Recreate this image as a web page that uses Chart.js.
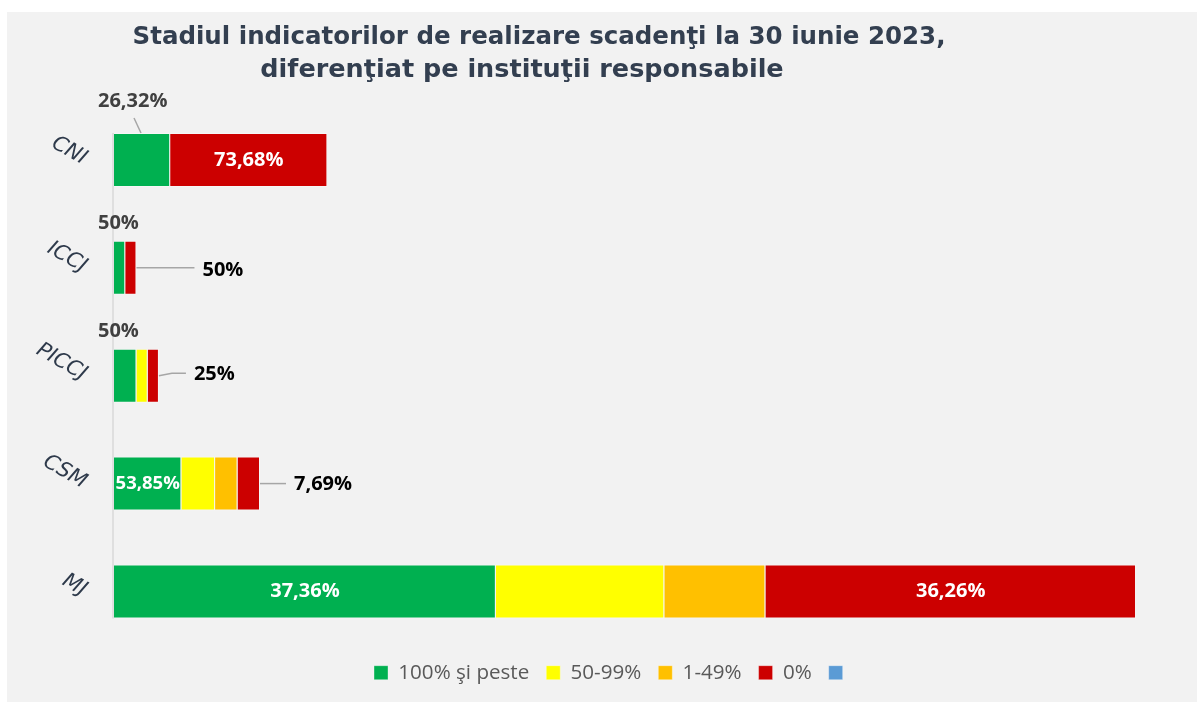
<!DOCTYPE html>
<html><head><meta charset="utf-8">
<script src="https://cdn.jsdelivr.net/npm/chart.js@4"></script>
<style>html,body{margin:0;padding:0;background:#fff;} canvas{display:block;}</style>
</head><body>
<canvas id="c" width="1197" height="702"></canvas>
<script>
// ---- data ----
const categories = ['CNI', 'ICCJ', 'PICCJ', 'CSM', 'MJ'];
const seriesNames = ['100% şi peste', '50-99%', '1-49%', '0%', ''];
const green  = [5, 1, 2, 6, 34];
const yellow = [0, 0, 1, 3, 15];
const orange = [0, 0, 0, 2, 9];
const red    = [14, 1, 1, 2, 33];
const blue   = [0, 0, 0, 0, 0];
const greenLabels = ['26,32%', '50%', '50%', '53,85%', '37,36%'];
const redLabels   = ['73,68%', '50%', '25%', '7,69%', '36,26%'];
const titleLines = ['Stadiul indicatorilor de realizare scadenţi la 30 iunie 2023,',
                    'diferenţiat pe instituţii responsabile'];

// ---- label styling (placement modes) ----
const greenModes = ['aboveLeader', 'above', 'above', 'inside', 'inside'];
const redModes   = ['inside', 'callout', 'callout', 'callout', 'inside'];
const calloutLen = [0, 58, 27, 26, 0];
const calloutKink = [0, 0, -2.5, 0, 0];
const calloutDy = [0, 2.5, -1, 1, 0];

const LABEL_FONT = '"Open Sans", "Noto Sans", sans-serif';

const bgPlugin = {
  id: 'bg',
  beforeDraw(chart) {
    const ctx = chart.ctx;
    ctx.save();
    ctx.fillStyle = '#ffffff';
    ctx.fillRect(0, 0, chart.width, chart.height);
    ctx.fillStyle = '#F2F2F2';
    ctx.fillRect(7, 12, chart.width - 7, chart.height - 12);
    ctx.restore();
  }
};

const titlePlugin = {
  id: 'title2',
  afterDraw(chart) {
    const ctx = chart.ctx;
    ctx.save();
    ctx.fillStyle = '#333F50';
    ctx.font = 'bold 24.5px "DejaVu Sans", sans-serif';
    ctx.textAlign = 'center';
    ctx.textBaseline = 'middle';
    ctx.fillText(titleLines[0], 539, 38);
    ctx.font = 'bold 25.5px "DejaVu Sans", sans-serif';
    ctx.fillText(titleLines[1], 522, 70);
    ctx.restore();
  }
};

const axisPlugin = {
  id: 'axisLine',
  beforeDatasetsDraw(chart) {
    const meta = chart.getDatasetMeta(0);
    const first = meta.data[0], last = meta.data[meta.data.length - 1];
    const x = chart.scales.x.getPixelForValue(0);
    const ctx = chart.ctx;
    ctx.save();
    ctx.strokeStyle = '#D9D9D9';
    ctx.lineWidth = 1.5;
    ctx.beginPath();
    ctx.moveTo(x - 1, first.y - first.height / 2);
    ctx.lineTo(x - 1, last.y + last.height / 2);
    ctx.stroke();
    ctx.restore();
  }
};

const labelPlugin = {
  id: 'barLabels',
  afterDatasetsDraw(chart) {
    const ctx = chart.ctx;
    const x0 = chart.scales.x.getPixelForValue(0);
    const draw = (dsIndex, texts, modes) => {
      const meta = chart.getDatasetMeta(dsIndex);
      meta.data.forEach((bar, i) => {
        const t = texts[i];
        if (!t) return;
        const p = bar.getProps(['x', 'y', 'base', 'height'], true);
        const left = Math.min(p.x, p.base), right = Math.max(p.x, p.base);
        const top = p.y - p.height / 2;
        const mode = modes[i];
        ctx.save();
        ctx.textBaseline = 'middle';
        let size = 20;
        ctx.font = 'bold ' + size + 'px ' + LABEL_FONT;
        if (mode === 'inside') {
          const w = ctx.measureText(t).width;
          const segW = right - left;
          if (w > segW - 3) {
            size = size * (segW - 3) / w;
            ctx.font = 'bold ' + size.toFixed(1) + 'px ' + LABEL_FONT;
          }
          ctx.fillStyle = '#ffffff';
          ctx.textAlign = 'center';
          ctx.fillText(t, (left + right) / 2, p.y);
        } else if (mode === 'above' || mode === 'aboveLeader') {
          ctx.fillStyle = '#404040';
          ctx.textAlign = 'left';
          if (mode === 'aboveLeader') {
            ctx.fillText(t, x0 - 16, top - 31.5);
            ctx.strokeStyle = '#A6A6A6';
            ctx.lineWidth = 1.5;
            ctx.beginPath();
            ctx.moveTo(x0 + 20, top - 15);
            ctx.lineTo(x0 + 27, top);
            ctx.stroke();
          } else {
            ctx.fillText(t, x0 - 16, top - 17.5);
          }
        } else if (mode === 'callout') {
          const L = calloutLen[i], k = calloutKink[i];
          ctx.strokeStyle = '#A6A6A6';
          ctx.lineWidth = 1.5;
          ctx.beginPath();
          ctx.moveTo(right, p.y);
          if (k !== 0) {
            ctx.lineTo(right + L * 0.48, p.y + k);
            ctx.lineTo(right + L, p.y + k);
          } else {
            ctx.lineTo(right + L, p.y);
          }
          ctx.stroke();
          ctx.fillStyle = '#000000';
          ctx.textAlign = 'left';
          ctx.fillText(t, right + L + 8, p.y + calloutDy[i]);
        }
        ctx.restore();
      });
    };
    draw(0, greenLabels, greenModes);
    draw(3, redLabels, redModes);
  }
};

const barBorder = 'rgba(255,255,255,0.35)';
new Chart(document.getElementById('c'), {
  type: 'bar',
  data: {
    labels: categories,
    datasets: [
      { label: seriesNames[0], data: green,  backgroundColor: '#00B050' },
      { label: seriesNames[1], data: yellow, backgroundColor: '#FFFF00' },
      { label: seriesNames[2], data: orange, backgroundColor: '#FFC000' },
      { label: seriesNames[3], data: red,    backgroundColor: '#CC0000' },
      { label: seriesNames[4], data: blue,   backgroundColor: '#5B9BD5' }
    ]
  },
  options: {
    indexAxis: 'y',
    responsive: false,
    animation: false,
    layout: { padding: { top: 106, left: 30, right: 0, bottom: 9 } },
    datasets: { bar: { categoryPercentage: 0.5, barPercentage: 1, borderWidth: 1, borderColor: barBorder } },
    scales: {
      x: { stacked: true, min: 0, max: 96.43, display: false },
      y: {
        stacked: true,
        grid: { display: false, drawTicks: false },
        border: { display: false },
        ticks: {
          minRotation: -30, maxRotation: -30, padding: 29,
          color: '#2E3A4B',
          font: { family: 'DejaVu Sans', size: 21, style: 'italic' }
        },
        afterFit(s) { s.width = 84; }
      }
    },
    plugins: {
      title: { display: false },
      tooltip: { enabled: false },
      legend: {
        position: 'bottom',
        labels: {
          boxWidth: 14, boxHeight: 14, padding: 17,
          color: '#595959',
          font: { family: 'Open Sans', size: 20.6 }
        }
      }
    }
  },
  plugins: [bgPlugin, axisPlugin, labelPlugin, titlePlugin]
});
</script>
</body></html>
